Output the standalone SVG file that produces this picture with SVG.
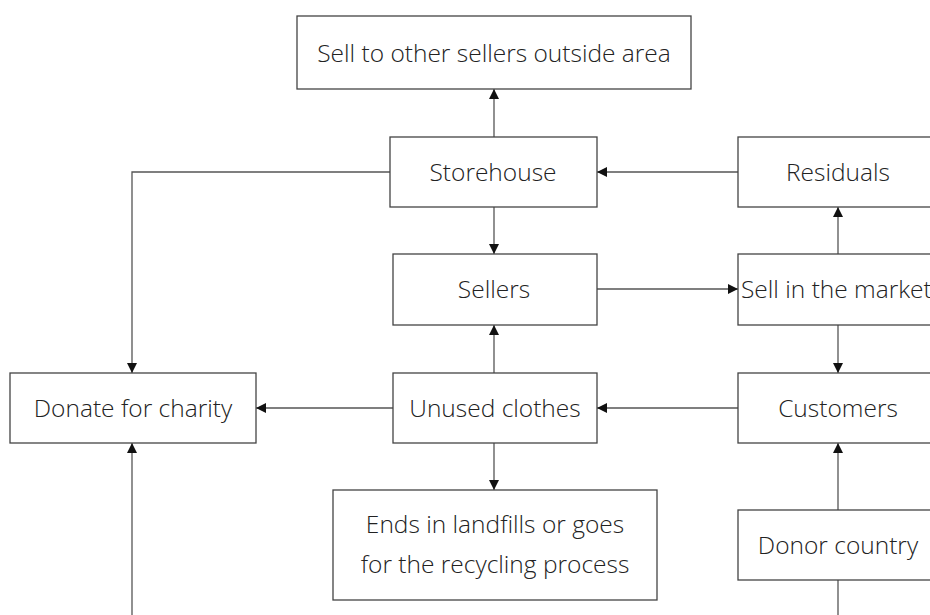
<svg xmlns="http://www.w3.org/2000/svg" width="930" height="615" viewBox="0 0 930 615">
<style>
.box{fill:#fff;stroke:#444;stroke-width:1.3}
.t{font-family:"Open Sans","Liberation Sans",Arial,sans-serif;font-weight:300;font-size:24.5px;fill:#222;text-anchor:middle;dominant-baseline:central}
.c{fill:none;stroke:#555;stroke-width:1.3}
</style>
<defs>
<marker id="ah" viewBox="0 0 10 10" refX="10" refY="5" markerWidth="10" markerHeight="10" markerUnits="userSpaceOnUse" orient="auto">
<path d="M0,0 L10,5 L0,10 Z" fill="#111"/>
</marker>
</defs>
<rect width="930" height="615" fill="#fff"/>
<g id="connectors">
<path class="c" d="M494,137 V89" marker-end="url(#ah)"/>
<path class="c" d="M494,207 V254" marker-end="url(#ah)"/>
<path class="c" d="M738,172 H597" marker-end="url(#ah)"/>
<path class="c" d="M390,172 H132 V373" marker-end="url(#ah)"/>
<path class="c" d="M838,254 V207" marker-end="url(#ah)"/>
<path class="c" d="M597,289 H738" marker-end="url(#ah)"/>
<path class="c" d="M838,325 V373" marker-end="url(#ah)"/>
<path class="c" d="M738,408 H597" marker-end="url(#ah)"/>
<path class="c" d="M494,373 V325" marker-end="url(#ah)"/>
<path class="c" d="M393,408 H256" marker-end="url(#ah)"/>
<path class="c" d="M494,443 V490" marker-end="url(#ah)"/>
<path class="c" d="M838,510 V443" marker-end="url(#ah)"/>
<path class="c" d="M838,580 V615"/>
<path class="c" d="M132,615 V443" marker-end="url(#ah)"/>
</g>
<g id="sell-outside"><rect class="box" x="297" y="16" width="394" height="73"/><text class="t" x="494" y="52">Sell to other sellers outside area</text></g>
<g id="storehouse"><rect class="box" x="390" y="137" width="207" height="70"/><text class="t" x="493" y="171">Storehouse</text></g>
<g id="residuals"><rect class="box" x="738" y="137" width="200" height="70"/><text class="t" x="838" y="171">Residuals</text></g>
<g id="sellers"><rect class="box" x="393" y="254" width="204" height="71"/><text class="t" x="494" y="288">Sellers</text></g>
<g id="sell-market"><rect class="box" x="738" y="254" width="200" height="71"/><text class="t" x="741" y="288" style="text-anchor:start">Sell in the market</text></g>
<g id="donate"><rect class="box" x="10" y="373" width="246" height="70"/><text class="t" x="133" y="407">Donate for charity</text></g>
<g id="unused"><rect class="box" x="393" y="373" width="204" height="70"/><text class="t" x="495" y="407">Unused clothes</text></g>
<g id="customers"><rect class="box" x="738" y="373" width="200" height="70"/><text class="t" x="838" y="407">Customers</text></g>
<g id="ends"><rect class="box" x="333" y="490" width="324" height="110"/><text class="t" x="495" y="523">Ends in landfills or goes</text><text class="t" x="495" y="563">for the recycling process</text></g>
<g id="donor"><rect class="box" x="738" y="510" width="200" height="70"/><text class="t" x="838" y="544">Donor country</text></g>
</svg>
